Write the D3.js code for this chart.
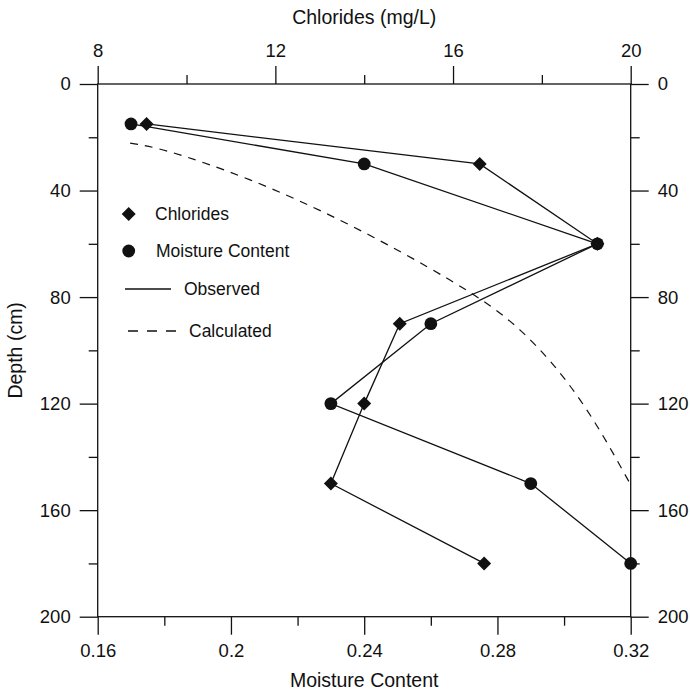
<!DOCTYPE html>
<html><head><meta charset="utf-8">
<script src="https://cdn.jsdelivr.net/npm/d3@7"></script>
<style>html,body{margin:0;padding:0;background:#fff}svg{display:block}text{font-family:Arial,"Liberation Sans",sans-serif;fill:#111}</style>
</head><body><svg id="c" width="690" height="692"></svg>
<script>
const depths = [15, 30, 60, 90, 120, 150, 180];
const moisture = [0.17, 0.24, 0.31, 0.26, 0.23, 0.29, 0.32];
const chlorides = [9.1, 16.6, 19.25, 14.8, 14.0, 13.25, 16.7];
const calcChloride = [8.73, 9.63, 11.43, 13.68, 15.93, 17.51, 18.86, 19.99];
const calcDepth = [22.2, 25.5, 36, 53, 73.6, 92.4, 118.6, 150.2];
const depthTicks = [0, 40, 80, 120, 160, 200];
const depthMinor = [20, 60, 100, 140, 180];
const mcTicks = [0.16, 0.2, 0.24, 0.28, 0.32];
const mcMinor = [0.18, 0.22, 0.26, 0.30];
const clTicks = [8, 12, 16, 20];
const clMinor = [10, 14, 18];
const legendItems = ["Chlorides", "Moisture Content", "Observed", "Calculated"];

const L = 97.7, R = 630.7, T = 84, B = 616.7;
const svg = d3.select("#c");
const y = d3.scaleLinear().domain([0, 200]).range([T, B]);
const xb = d3.scaleLinear().domain([0.16, 0.32]).range([L, R]);
const xt = d3.scaleLinear().domain([8, 20]).range([L, R]);
const ink = "#111";
const fs = "18.5px";

function ax(gen, tr, vals, size, labels, fmt) {
  const g = svg.append("g").attr("transform", tr)
    .call(gen.tickValues(vals).tickSize(size).tickSizeOuter(0).tickPadding(9)
      .tickFormat(labels ? fmt : () => ""));
  g.select(".domain").remove();
  g.selectAll(".tick line").attr("stroke", ink).attr("stroke-width", 1.3);
  g.selectAll(".tick text").style("font-size", fs).attr("fill", ink);
  return g;
}
const fmtMc = d => String(+d.toFixed(2));
ax(d3.axisLeft(y), `translate(${L},0)`, depthTicks, 18, true, d3.format("d"));
ax(d3.axisLeft(y), `translate(${L},0)`, depthMinor, 9, false);
ax(d3.axisRight(y), `translate(${R},0)`, depthTicks, 18, true, d3.format("d"));
ax(d3.axisRight(y), `translate(${R},0)`, depthMinor, 9, false);
ax(d3.axisBottom(xb), `translate(0,${B})`, mcTicks, 18, true, fmtMc);
ax(d3.axisBottom(xb), `translate(0,${B})`, mcMinor, 9, false);
ax(d3.axisTop(xt), `translate(0,${T})`, clTicks, 18, true, d3.format("d"));
ax(d3.axisTop(xt), `translate(0,${T})`, clMinor, 9, false);

svg.append("rect").attr("x", L).attr("y", T).attr("width", R - L).attr("height", B - T)
  .attr("fill", "none").attr("stroke", ink).attr("stroke-width", 1.3);

// titles
svg.append("text").attr("x", (L + R) / 2).attr("y", 24).attr("text-anchor", "middle")
  .style("font-size", "19.5px").text("Chlorides (mg/L)");
svg.append("text").attr("x", (L + R) / 2).attr("y", 687).attr("text-anchor", "middle")
  .style("font-size", "19.5px").text("Moisture Content");
svg.append("text").attr("transform", `translate(22,${(T + B) / 2}) rotate(-90)`).attr("text-anchor", "middle")
  .style("font-size", "19.5px").text("Depth (cm)");

// calculated curve
const calc = calcDepth.map((d, i) => [xt(calcChloride[i]), y(d)]);
svg.append("path").attr("d", d3.line().curve(d3.curveNatural)(calc))
  .attr("fill", "none").attr("stroke", ink).attr("stroke-width", 1.2).attr("stroke-dasharray", "8,7");

// observed lines
const mcPts = depths.map((d, i) => [xb(moisture[i]), y(d)]);
const clPts = depths.map((d, i) => [xt(chlorides[i]), y(d)]);
const line = d3.line();
svg.append("path").attr("d", line(mcPts)).attr("fill", "none").attr("stroke", ink).attr("stroke-width", 1.3);
svg.append("path").attr("d", line(clPts)).attr("fill", "none").attr("stroke", ink).attr("stroke-width", 1.3);

const diamond = d3.symbol().type(d3.symbolDiamond2).size(125);
svg.selectAll(".mc").data(mcPts).join("circle").attr("cx", d => d[0]).attr("cy", d => d[1]).attr("r", 6.4).attr("fill", ink);
svg.selectAll(".cl").data(clPts).join("path").attr("d", diamond).attr("transform", d => `translate(${d[0]},${d[1]})`).attr("fill", ink);

// legend
const lg = svg.append("g");
lg.append("path").attr("d", diamond).attr("transform", "translate(128.7,214)").attr("fill", ink);
lg.append("text").attr("x", 155).attr("y", 220).style("font-size", "17.5px").text(legendItems[0]);
lg.append("circle").attr("cx", 128.7).attr("cy", 251).attr("r", 6.4).attr("fill", ink);
lg.append("text").attr("x", 156).attr("y", 257).style("font-size", "17.5px").text(legendItems[1]);
lg.append("line").attr("x1", 125).attr("x2", 171).attr("y1", 289).attr("y2", 289).attr("stroke", ink).attr("stroke-width", 1.3);
lg.append("text").attr("x", 184).attr("y", 295).style("font-size", "17.5px").text(legendItems[2]);
lg.append("line").attr("x1", 128).attr("x2", 176).attr("y1", 331).attr("y2", 331).attr("stroke", ink).attr("stroke-width", 1.3).attr("stroke-dasharray", "10,9");
lg.append("text").attr("x", 189).attr("y", 337).style("font-size", "17.5px").text(legendItems[3]);
</script></body></html>
